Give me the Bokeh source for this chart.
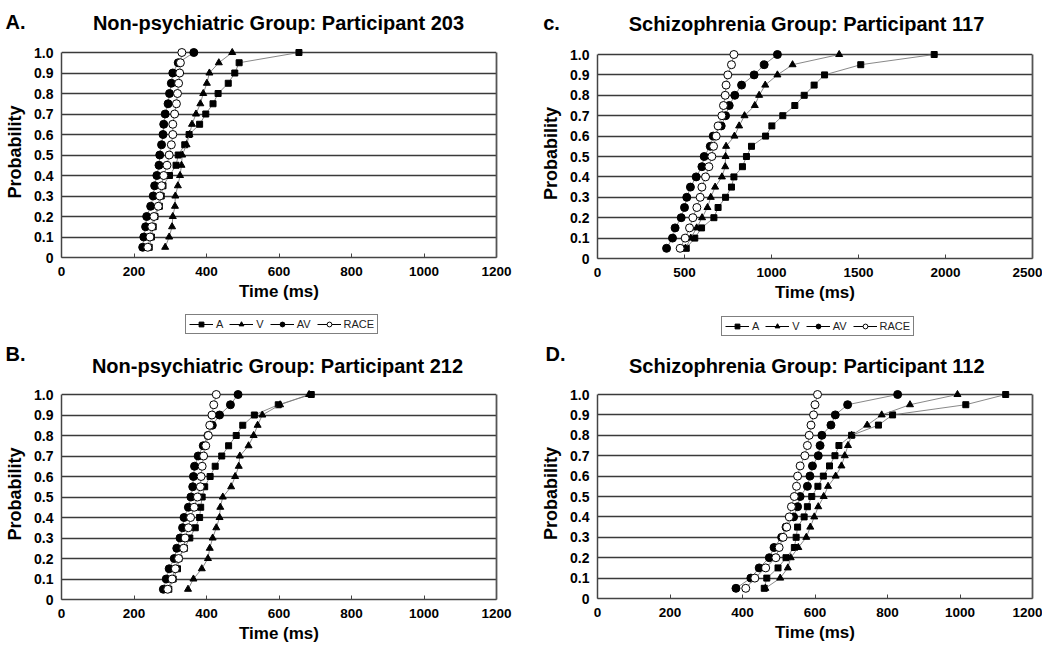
from bokeh.plotting import figure
from bokeh.layouts import row, column
from bokeh.models import Range1d, FixedTicker, Label, Legend, LegendItem, LinearAxis
from bokeh.embed import file_html
from bokeh.resources import INLINE

FONT = "Liberation Sans"

# cumulative probability levels (shared by all panels)
PROB = [0.05, 0.10, 0.15, 0.20, 0.25, 0.30, 0.35, 0.40, 0.45, 0.50,
        0.55, 0.60, 0.65, 0.70, 0.75, 0.80, 0.85, 0.90, 0.95, 1.00]

Y_TICKS = [0, 0.1, 0.2, 0.3, 0.4, 0.5, 0.6, 0.7, 0.8, 0.9, 1.0]
Y_TICK_LABELS = ["0", "0.1", "0.2", "0.3", "0.4", "0.5", "0.6", "0.7", "0.8", "0.9", "1.0"]
X_TICKS_1200 = [0, 200, 400, 600, 800, 1000, 1200]
X_TICKS_2500 = [0, 500, 1000, 1500, 2000, 2500]

SERIES_NAMES = ["A", "V", "AV", "RACE"]

# Panel A: Non-psychiatric Group, Participant 203 (RT in ms)
P203_A = [242, 248, 253, 258, 270, 275, 280, 298, 316, 322, 340, 352, 381, 398, 418, 432, 460, 478, 490, 655]
P203_V = [286, 297, 305, 307, 313, 314, 321, 327, 331, 333, 345, 353, 360, 371, 383, 391, 401, 408, 434, 471]
P203_AV = [224, 227, 232, 235, 246, 253, 257, 263, 269, 271, 276, 280, 282, 286, 294, 298, 303, 307, 322, 365]
P203_RACE = [238, 244, 249, 255, 267, 271, 276, 282, 291, 297, 303, 307, 307, 312, 317, 320, 323, 326, 328, 332]

# Panel B: Non-psychiatric Group, Participant 212
P212_A = [296, 308, 320, 324, 339, 354, 369, 381, 384, 388, 395, 410, 424, 442, 461, 482, 500, 532, 598, 689]
P212_V = [349, 364, 387, 404, 409, 417, 427, 436, 438, 445, 468, 479, 489, 492, 516, 530, 541, 554, 603, 683]
P212_AV = [281, 289, 297, 311, 318, 327, 334, 338, 350, 357, 362, 364, 367, 377, 391, 404, 416, 436, 466, 487]
P212_RACE = [293, 305, 314, 323, 337, 341, 350, 356, 366, 375, 383, 385, 388, 392, 398, 405, 409, 415, 420, 427]

# Panel C: Schizophrenia Group, Participant 117
P117_A = [510, 559, 598, 669, 693, 736, 770, 784, 833, 856, 885, 966, 1002, 1065, 1134, 1188, 1245, 1305, 1513, 1935]
P117_V = [506, 536, 570, 601, 632, 651, 676, 715, 734, 736, 739, 787, 814, 845, 904, 929, 964, 1034, 1121, 1389]
P117_AV = [397, 431, 446, 481, 500, 513, 534, 567, 600, 613, 648, 665, 711, 736, 757, 789, 828, 900, 958, 1034]
P117_RACE = [475, 504, 529, 548, 571, 590, 600, 621, 640, 657, 667, 682, 693, 715, 724, 734, 739, 749, 770, 784]

# Panel D: Schizophrenia Group, Participant 112
P112_A = [460, 467, 498, 520, 543, 548, 552, 570, 579, 591, 608, 623, 640, 655, 666, 701, 775, 814, 1016, 1126]
P112_V = [463, 504, 525, 533, 554, 576, 587, 598, 609, 624, 636, 657, 673, 682, 691, 701, 744, 784, 862, 993]
P112_AV = [382, 423, 446, 474, 487, 508, 520, 541, 552, 559, 579, 586, 593, 609, 614, 619, 644, 656, 690, 828]
P112_RACE = [409, 434, 464, 492, 501, 512, 522, 529, 535, 543, 549, 552, 559, 572, 579, 584, 589, 596, 600, 607]

STYLES = {
    "A": dict(marker="square", size=6, fill_color="black", line_color="black"),
    "V": dict(marker="triangle", size=7, fill_color="black", line_color="black"),
    "AV": dict(marker="circle", size=8, fill_color="black", line_color="black"),
    "RACE": dict(marker="circle", size=8, fill_color="white", line_color="black"),
}
LINE_COLOR = "#7a7a7a"
TOP_PAD = 6  # px of headroom above the 1.0 line so markers there are not cut


def make_panel(series, xmax, xticks, mb_left, mb_right, mb_top, mb_bottom, fh):
    ytop = 1.0 + TOP_PAD / fh
    p = figure(frame_width=435, frame_height=fh + TOP_PAD,
               min_border_left=mb_left, min_border_right=mb_right,
               min_border_top=mb_top - TOP_PAD, min_border_bottom=mb_bottom,
               x_range=Range1d(0, xmax), y_range=Range1d(0, ytop), title=None,
               output_backend="svg", toolbar_location=None,
               background_fill_color="white", border_fill_color="white")
    p.outline_line_color = None
    p.xgrid.visible = False
    p.ygrid.ticker = FixedTicker(ticks=Y_TICKS)
    p.ygrid.grid_line_color = "#3a3a3a"
    p.ygrid.grid_line_width = 1.3

    xa = p.xaxis[0]
    xa.ticker = FixedTicker(ticks=xticks)
    xa.axis_label = "Time (ms)"
    xa.axis_label_text_font = FONT
    xa.axis_label_text_font_style = "bold"
    xa.axis_label_text_font_size = "17px"
    xa.axis_label_text_color = "black"
    xa.axis_label_standoff = 3
    xa.major_label_text_font = FONT
    xa.major_label_text_font_style = "bold"
    xa.major_label_text_font_size = "13.5px"
    xa.major_label_text_color = "black"
    xa.major_label_standoff = 9
    xa.major_tick_in = 4
    xa.major_tick_out = 0
    xa.minor_tick_in = 0
    xa.minor_tick_out = 0
    xa.axis_line_color = "#444444"
    xa.axis_line_width = 1.5
    xa.major_tick_line_color = "#444444"

    ya = p.yaxis[0]
    ya.ticker = FixedTicker(ticks=Y_TICKS)
    ya.bounds = (0, 1.0)
    ya.major_label_overrides = {t: s for t, s in zip(Y_TICKS, Y_TICK_LABELS)}
    ya.axis_label = "Probability"
    ya.axis_label_text_font = FONT
    ya.axis_label_text_font_style = "bold"
    ya.axis_label_text_font_size = "18px"
    ya.axis_label_text_color = "black"
    ya.axis_label_standoff = 6
    ya.major_label_text_font = FONT
    ya.major_label_text_font_style = "bold"
    ya.major_label_text_font_size = "14px"
    ya.major_label_text_color = "black"
    ya.major_label_standoff = 8
    ya.major_tick_in = 0
    ya.major_tick_out = 0
    ya.minor_tick_in = 0
    ya.minor_tick_out = 0
    ya.axis_line_color = "#444444"
    ya.axis_line_width = 1.5

    # right border of the plot box, from 0 to 1.0
    ra = LinearAxis(ticker=FixedTicker(ticks=[]), bounds=(0, 1.0),
                    axis_line_color="#555555", axis_line_width=1.8,
                    major_tick_in=0, major_tick_out=0, minor_tick_in=0, minor_tick_out=0,
                    major_label_standoff=0, major_label_text_font_size="1px")
    p.add_layout(ra, "right")

    for name, xs in zip(SERIES_NAMES, series):
        p.line(xs, PROB, line_color=LINE_COLOR, line_width=0.9)
        p.scatter(xs, PROB, line_width=1, **STYLES[name])
    return p


def make_header(width, height, letter, letter_xy, title, title_xy, legend_xy=None):
    h = figure(frame_width=width, frame_height=height,
               min_border_left=0, min_border_right=0, min_border_top=0, min_border_bottom=0,
               x_range=Range1d(0, width), y_range=Range1d(0, height), title=None,
               x_axis_location=None, y_axis_location=None,
               output_backend="svg", toolbar_location=None,
               background_fill_color="white", border_fill_color="white")
    h.outline_line_color = None
    h.grid.visible = False
    h.add_layout(Label(x=title_xy[0], y=title_xy[1], x_units="screen", y_units="screen",
                       text=title,
                       text_align="center", text_baseline="alphabetic",
                       text_font=FONT, text_font_style="bold", text_font_size="20px",
                       text_color="black"))
    h.add_layout(Label(x=letter_xy[0], y=letter_xy[1], x_units="screen", y_units="screen",
                       text=letter,
                       text_align="left", text_baseline="alphabetic",
                       text_font=FONT, text_font_style="bold", text_font_size="20px",
                       text_color="black"))
    if legend_xy is not None:
        # legend keys: glyphs with no drawable point, styled like the panel series
        nan = float("nan")
        items = []
        for name in SERIES_NAMES:
            ln = h.line(x=[nan, nan], y=[nan, nan], line_color="black", line_width=1)
            sc = h.scatter(x=[nan], y=[nan], line_width=1, **STYLES[name])
            items.append(LegendItem(label=name, renderers=[ln, sc]))
        leg = Legend(items=items, location=legend_xy, orientation="horizontal",
                     glyph_width=24, glyph_height=12, label_height=12, label_width=6,
                     label_standoff=3, spacing=6, padding=3, margin=0,
                     label_text_font=FONT, label_text_font_size="11px",
                     label_text_color="#222222",
                     border_line_color="black", border_line_width=1,
                     background_fill_color="white", background_fill_alpha=1.0)
        h.add_layout(leg, "center")
    return row(h)


LEFT_W = 538
RIGHT_W = 504

hA = make_header(LEFT_W, 44, "A.", (5, 22.3), "Non-psychiatric Group: Participant 203", (278, 21.3))
pA = make_panel([P203_A, P203_V, P203_AV, P203_RACE], 1200, X_TICKS_1200, 61, 42, 8, 46, 205)
hB = make_header(LEFT_W, 83, "B.", (5, 32.7), "Non-psychiatric Group: Participant 212", (277, 21),
                 legend_xy=(185, 52))
pB = make_panel([P212_A, P212_V, P212_AV, P212_RACE], 1200, X_TICKS_1200, 59, 44, 8, 46, 205)

hC = make_header(RIGHT_W, 46, "c.", (4.7, 23.3), "Schizophrenia Group: Participant 117", (268, 22.7))
pC = make_panel([P117_A, P117_V, P117_AV, P117_RACE], 2500, X_TICKS_2500, 59, 10, 8, 46, 204)
hD = make_header(RIGHT_W, 82, "D.", (7, 32.7), "Schizophrenia Group: Participant 112", (268.3, 21),
                 legend_xy=(183, 50))
pD = make_panel([P112_A, P112_V, P112_AV, P112_RACE], 1200, X_TICKS_1200, 59, 10, 8, 46, 204)

layout = row(column(hA, pA, hB, pB), column(hC, pC, hD, pD))

open("out.html", "w").write(file_html(layout, INLINE))
